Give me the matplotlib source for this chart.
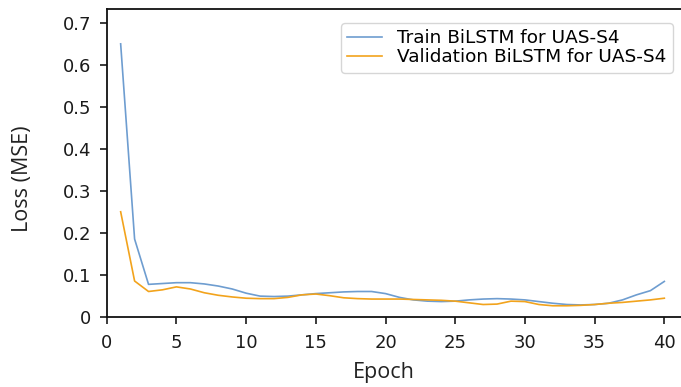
import numpy as np
import matplotlib
matplotlib.use("Agg")
import matplotlib.pyplot as plt
from matplotlib.ticker import FuncFormatter

epochs = np.arange(1, 41)

train_loss = [0.650, 0.185, 0.077, 0.079, 0.081, 0.081, 0.078, 0.073, 0.066, 0.056,
              0.049, 0.048, 0.049, 0.052, 0.055, 0.057, 0.059, 0.060, 0.060, 0.055,
              0.046, 0.040, 0.037, 0.036, 0.037, 0.040, 0.042, 0.043, 0.042, 0.040,
              0.036, 0.032, 0.029, 0.028, 0.029, 0.032, 0.040, 0.052, 0.062, 0.084]

val_loss = [0.250, 0.085, 0.060, 0.064, 0.071, 0.066, 0.057, 0.051, 0.047, 0.044,
            0.043, 0.043, 0.046, 0.052, 0.054, 0.050, 0.045, 0.043, 0.042, 0.042,
            0.042, 0.041, 0.040, 0.039, 0.037, 0.033, 0.029, 0.030, 0.037, 0.036,
            0.029, 0.026, 0.026, 0.027, 0.029, 0.032, 0.034, 0.037, 0.040, 0.044]

x_ticks = [0, 5, 10, 15, 20, 25, 30, 35, 40]
y_ticks = [0, 0.1, 0.2, 0.3, 0.4, 0.5, 0.6, 0.7]


def main():
    fig = plt.figure(figsize=(6.81, 3.87), dpi=100)
    # right edge of the axes runs past the picture, as in the reference
    ax = fig.add_axes([0.1567, 0.1817, 0.87, 0.795])

    ax.plot(epochs, train_loss, color='#6e9dd0', linewidth=1.2, label='Train BiLSTM for UAS-S4')
    ax.plot(epochs, val_loss, color='#f2a31c', linewidth=1.2, label='Validation BiLSTM for UAS-S4')

    ax.set_xlim(0, 42.5)
    ax.set_ylim(0, 0.733)
    ax.set_xticks(x_ticks)
    ax.set_yticks(y_ticks)
    ax.yaxis.set_major_formatter(FuncFormatter(lambda v, p: '%g' % round(v, 2)))
    ax.tick_params(labelsize=13, length=5.3, width=1.2, colors='#1a1a1a')
    ax.tick_params(axis='x', pad=7)
    ax.tick_params(axis='y', pad=6)
    for sp in ax.spines.values():
        sp.set_linewidth(1.3)
        sp.set_color('#111111')

    ax.set_xlabel('Epoch', fontsize=15.5, family=['Open Sans', 'DejaVu Sans'], color='#222222')
    ax.set_ylabel('Loss (MSE)', fontsize=15.5, family=['Open Sans', 'DejaVu Sans'], color='#222222')
    ax.xaxis.set_label_coords(0.468, -0.147)
    ax.yaxis.set_label_coords(-0.124, 0.4475)

    ax.legend(loc='upper right', bbox_to_anchor=(0.956, 0.9545), borderaxespad=0,
              fontsize=13.3, handlelength=1.85, handletextpad=0.85, labelspacing=0.05,
              borderpad=0.35, fancybox=True)

    fig.savefig('out.png', dpi=100)


if __name__ == "__main__":
    main()
